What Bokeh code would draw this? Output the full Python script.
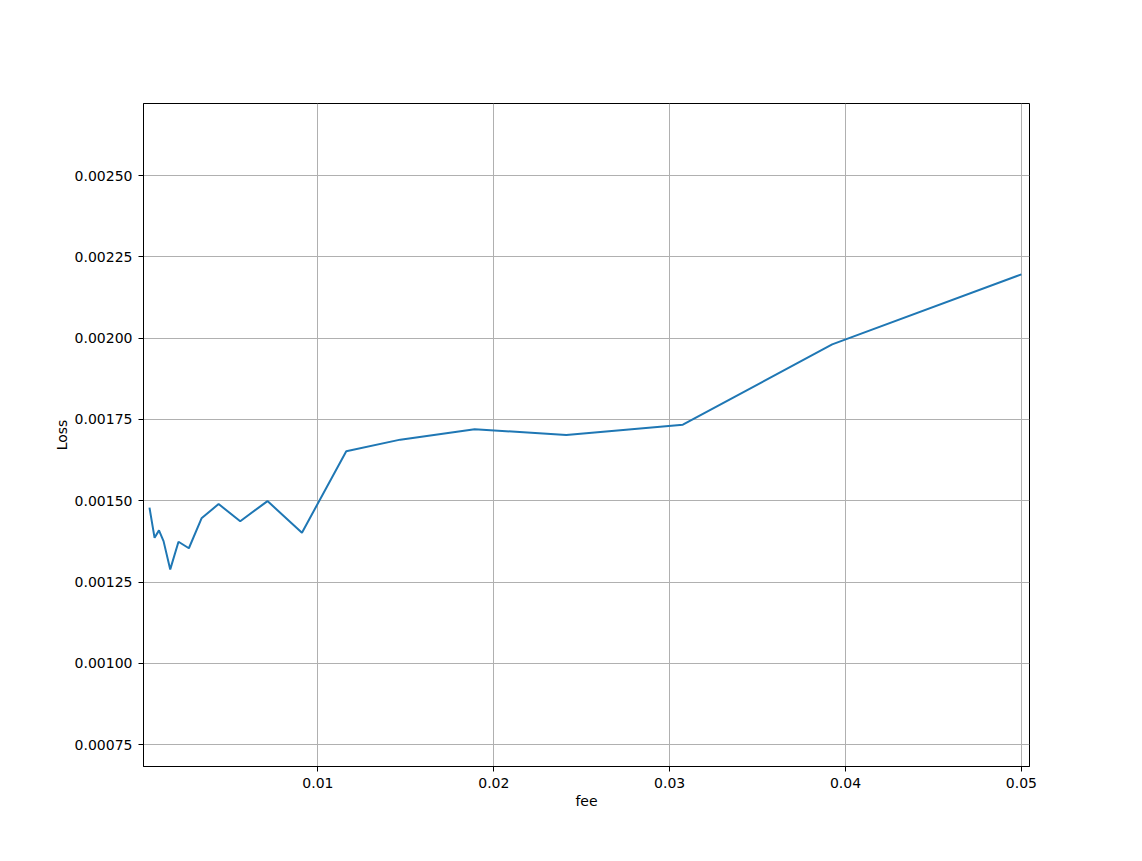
from bokeh.plotting import figure
from bokeh.models import FixedTicker, NumeralTickFormatter, Range1d
from bokeh.embed import file_html
from bokeh.resources import INLINE

fee = [0.00042, 0.00071, 0.00096, 0.00122, 0.00160, 0.00207, 0.00266, 0.00338,
       0.00435, 0.00558, 0.00713, 0.00909, 0.01161, 0.01468, 0.01891, 0.02412,
       0.03075, 0.03924, 0.05000]
loss = [0.001479, 0.001386, 0.001409, 0.001376, 0.001289, 0.001374, 0.001354, 0.001446,
        0.001490, 0.001437, 0.001499, 0.001402, 0.001652, 0.001688, 0.001720, 0.001702,
        0.001734, 0.001981, 0.002196]
x_ticks = [0.01, 0.02, 0.03, 0.04, 0.05]
y_ticks = [0.00075, 0.00100, 0.00125, 0.00150, 0.00175, 0.00200, 0.00225, 0.00250]

p = figure(width=1134, height=853, output_backend="svg", toolbar_location=None,
           x_range=Range1d(0.00008, 0.05046), y_range=Range1d(0.000683, 0.0027215),
           min_border_left=143, min_border_right=105, min_border_top=103, min_border_bottom=87)

p.line(fee, loss, line_color="#1f77b4", line_width=2)

p.outline_line_color = "black"
p.outline_line_width = 1
p.background_fill_color = "white"
p.border_fill_color = "white"

for ax in (p.xaxis[0], p.yaxis[0]):
    ax.axis_line_color = "black"
    ax.major_tick_line_color = "black"
    ax.major_tick_out = 5
    ax.major_tick_in = 0
    ax.minor_tick_line_color = None
    ax.major_label_text_font = "DejaVu Sans"
    ax.major_label_text_font_size = "14px"
    ax.major_label_text_color = "black"
    ax.axis_label_text_font = "DejaVu Sans"
    ax.axis_label_text_font_size = "14px"
    ax.axis_label_text_font_style = "normal"
    ax.axis_label_text_color = "black"

p.xaxis.ticker = FixedTicker(ticks=x_ticks)
p.yaxis.ticker = FixedTicker(ticks=y_ticks)
p.xaxis.formatter = NumeralTickFormatter(format="0.00")
p.yaxis.formatter = NumeralTickFormatter(format="0.00000")
p.xaxis.axis_label = "fee"
p.yaxis.axis_label = "Loss"
p.xaxis.major_label_standoff = 6
p.yaxis.major_label_standoff = 6
p.xaxis.axis_label_standoff = 2
p.yaxis.axis_label_standoff = 2

p.grid.grid_line_color = "#b0b0b0"
p.grid.grid_line_width = 1
p.xgrid.ticker = FixedTicker(ticks=x_ticks)
p.ygrid.ticker = FixedTicker(ticks=y_ticks)

open("out.html", "w").write(file_html(p, INLINE))
